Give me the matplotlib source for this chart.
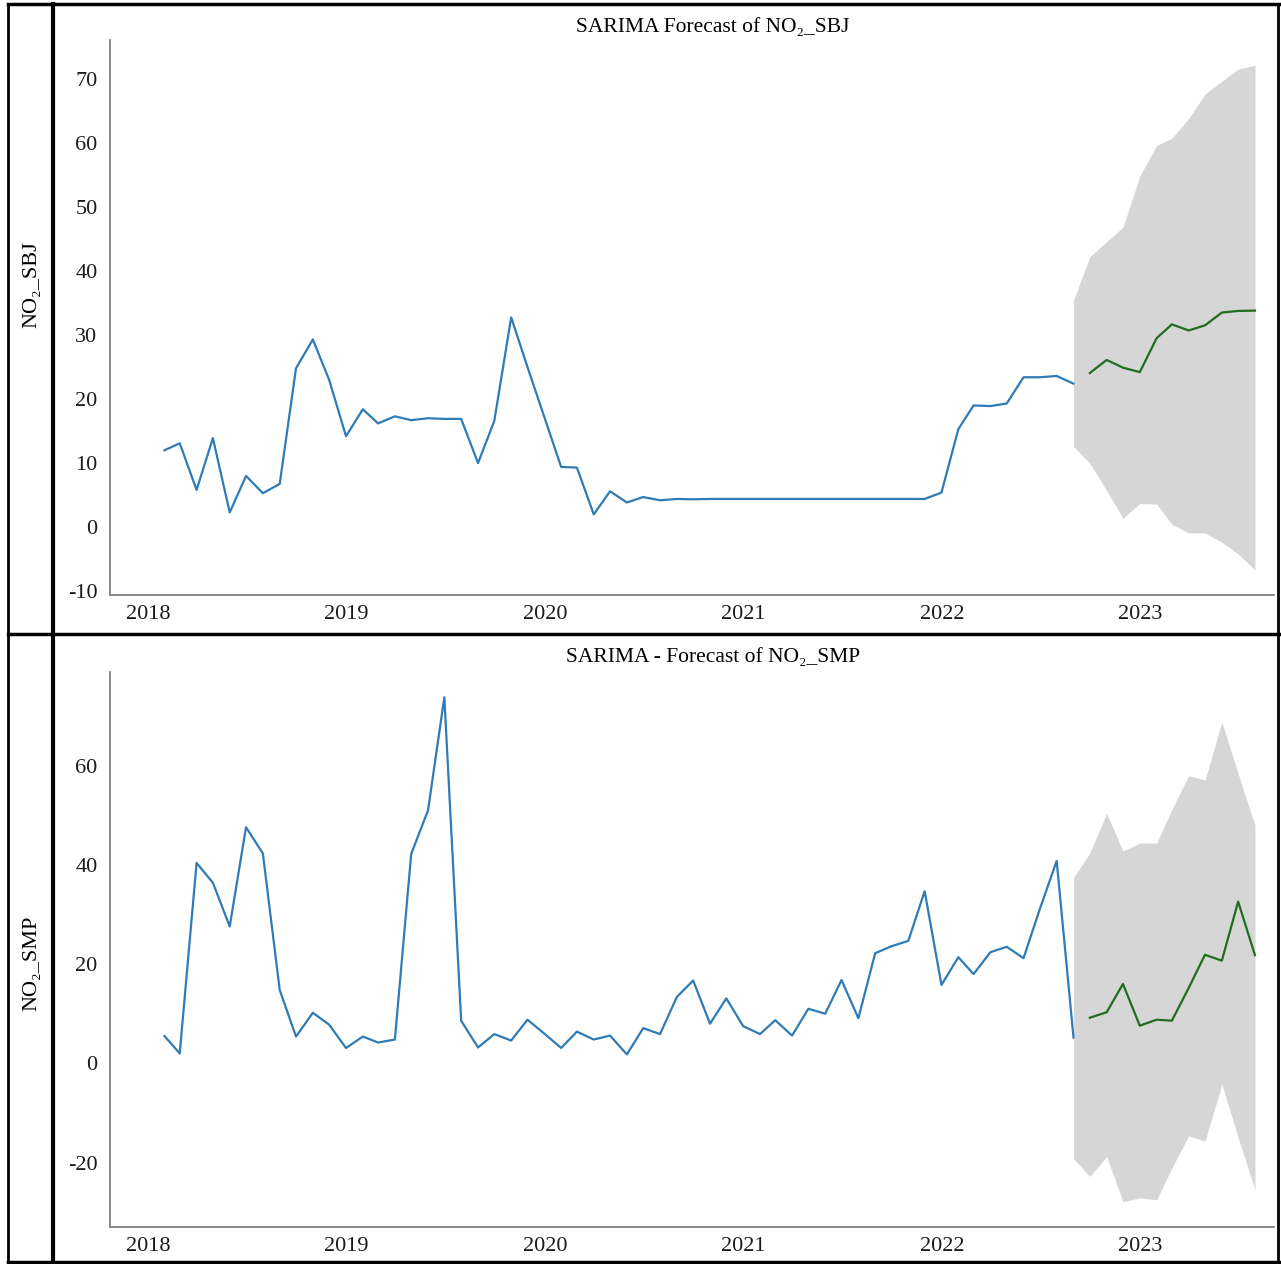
import numpy as np
import pandas as pd
import matplotlib
matplotlib.use("Agg")
import matplotlib.pyplot as plt
import matplotlib.dates as mdates

plt.rcParams['font.family'] = ['Liberation Serif', 'DejaVu Serif']
plt.rcParams['axes.unicode_minus'] = False

# 观测期与预测期
obs_dates = pd.date_range('2018-01-31', periods=56, freq='ME')
fc_dates = pd.date_range('2022-09-30', periods=11, freq='ME')
ci_dates = pd.date_range('2022-08-31', periods=12, freq='ME')

# NO2_SBJ
sbj_obs = [12.0, 13.1, 5.8, 13.9, 2.3, 8.0, 5.3, 6.75, 24.8, 29.3, 23.0, 14.2,
           18.4, 16.2, 17.3, 16.7, 17.0, 16.9, 16.9, 10.0, 16.6, 32.75, 25.0, 17.2,
           9.4, 9.3, 2.0, 5.6, 3.85, 4.7, 4.2, 4.4, 4.35, 4.4, 4.4, 4.4,
           4.4, 4.4, 4.4, 4.4, 4.4, 4.4, 4.4, 4.4, 4.4, 4.4, 4.4, 5.4,
           15.3, 19.0, 18.9, 19.3, 23.4, 23.4, 23.6, 22.4]
sbj_fc = [24.05, 26.1, 24.9, 24.2, 29.5, 31.65, 30.7, 31.5, 33.5, 33.75, 33.8]
sbj_upper = [35.4, 42.2, 44.6, 46.8, 54.8, 59.6, 60.7, 63.8, 67.6, 69.6, 71.5, 72.1]
sbj_lower = [12.6, 10.0, 5.7, 1.4, 3.7, 3.6, 0.45, -0.9, -0.9, -2.35, -4.2, -6.65]

# NO2_SMP
smp_obs = [5.5, 2.0, 40.4, 36.4, 27.6, 47.6, 42.3, 14.8, 5.4, 10.2, 7.8, 3.1,
           5.4, 4.2, 4.8, 42.2, 51.0, 73.8, 8.6, 3.2, 5.9, 4.6, 8.8, 6.0,
           3.1, 6.4, 4.8, 5.6, 1.8, 7.1, 5.9, 13.4, 16.7, 8.0, 13.1, 7.5,
           5.9, 8.7, 5.6, 11.0, 10.0, 16.8, 9.1, 22.2, 23.6, 24.7, 34.7, 15.8,
           21.4, 18.0, 22.4, 23.5, 21.2, 31.1, 40.8, 5.2]
smp_fc = [9.2, 10.3, 16.0, 7.6, 8.8, 8.6, 15.2, 21.9, 20.7, 32.6, 21.8]
smp_upper = [37.4, 42.4, 50.4, 42.8, 44.4, 44.4, 51.2, 58.0, 57.1, 68.8, 58.4, 48.0]
smp_lower = [-19.2, -22.8, -18.8, -27.9, -27.1, -27.5, -21.1, -14.6, -15.7, -4.2, -15.0, -25.5]

W, H = 1281, 1264
fig = plt.figure(figsize=(W / 100, H / 100), dpi=100)

panels = [
    ('SARIMA Forecast of NO\u2082_SBJ', 'NO\u2082_SBJ', sbj_obs, sbj_fc, sbj_upper, sbj_lower, 40, 285, 27),
    ('SARIMA - Forecast of NO\u2082_SMP', 'NO\u2082_SMP', smp_obs, smp_fc, smp_upper, smp_lower, 672, 963, 657),
]

for title, ylab, obs, fc, up, lo, top_px, ylab_px, title_px in panels:
    ax = fig.add_axes([110 / W, 1 - (top_px + 555) / H, (1274 - 110) / W, 555 / H])
    ax.plot(obs_dates, obs, color='#2f7bb6', lw=1.6)
    ax.fill_between(ci_dates, lo, up, color='#d6d6d6', lw=0)
    ax.plot(fc_dates, fc, color='#1e6e1e', lw=1.6)

    # x范围：左侧保留默认边距，右侧被截断
    span = fc_dates[-1] - obs_dates[0]
    ax.set_xlim(obs_dates[0] - span * 0.05, fc_dates[-1] + pd.Timedelta(days=35))
    ax.xaxis.set_major_locator(mdates.YearLocator())
    ax.xaxis.set_major_formatter(mdates.DateFormatter('%Y'))

    for s in ['top', 'right']:
        ax.spines[s].set_visible(False)
    for s in ['left', 'bottom']:
        ax.spines[s].set_color('#808080')
        ax.spines[s].set_linewidth(1.3)
    ax.tick_params(length=0, labelsize=16, labelcolor='#1a1a1a')
    ax.tick_params(axis='y', pad=9)
    ax.tick_params(axis='x', pad=7)

    fig.text(713 / W, 1 - title_px / H, title, ha='center', va='center', fontsize=15.5)
    fig.text(32 / W, 1 - ylab_px / H, ylab, ha='center', va='center', rotation=90, fontsize=16)

# 表格边框
def hline(y, x0, x1, lw=2.5):
    fig.add_artist(plt.Line2D([x0 / W, x1 / W], [1 - y / H, 1 - y / H], color='black', lw=lw))

def vline(x, y0, y1, lw=2.5):
    fig.add_artist(plt.Line2D([x / W, x / W], [1 - y0 / H, 1 - y1 / H], color='black', lw=lw))

hline(4, 8, 1279)
hline(634, 8, 1279)
hline(1262, 8, 1279)
vline(8, 4, 1262, lw=2)
vline(53, 4, 1262, lw=3)
vline(1278, 4, 1262, lw=2)

fig.savefig('out.png', dpi=100)
